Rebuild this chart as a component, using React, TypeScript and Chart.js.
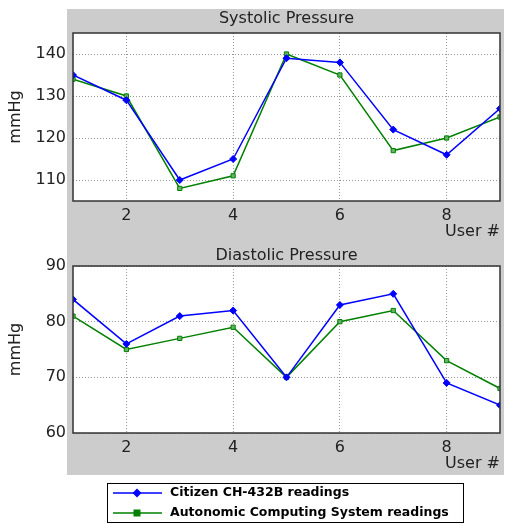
import React, { useEffect, useRef } from "react";
import { Chart, registerables } from "chart.js";

Chart.register(...registerables);

const users = [1, 2, 3, 4, 5, 6, 7, 8, 9];
const systolicCitizen = [135, 129, 110, 115, 139, 138, 122, 116, 127];
const systolicACS = [134, 130, 108, 111, 140, 135, 117, 120, 125];
const diastolicCitizen = [84, 76, 81, 82, 70, 83, 85, 69, 65];
const diastolicACS = [81, 75, 77, 79, 70, 80, 82, 73, 68];
const xTickValues = [2, 4, 6, 8];
const systolicTicks = [110, 120, 130, 140];
const diastolicTicks = [60, 70, 80, 90];
const seriesLabels = ["Citizen CH-432B readings", "Autonomic Computing System readings"];
const seriesColors = ["#0000ff", "#008000"];
const seriesMarkers = ["rectRot", "rect"];

const FONT = "'DejaVu Sans', 'Liberation Sans', sans-serif";

function drawMarker(ctx: CanvasRenderingContext2D, kind: string, x: number, y: number, color: string) {
  ctx.save();
  ctx.fillStyle = color;
  ctx.strokeStyle = color;
  ctx.beginPath();
  if (kind === "rectRot") {
    const r = 4.5;
    ctx.moveTo(x, y - r);
    ctx.lineTo(x + r, y);
    ctx.lineTo(x, y + r);
    ctx.lineTo(x - r, y);
    ctx.closePath();
  } else {
    const r = 3.5;
    ctx.rect(x - r, y - r, 2 * r, 2 * r);
  }
  ctx.fill();
  ctx.restore();
}

const panelPlugin = {
  id: "panel",
  beforeDraw(chart: any) {
    const { ctx, chartArea: a } = chart;
    ctx.save();
    ctx.fillStyle = "#ffffff";
    ctx.fillRect(a.left, a.top, a.right - a.left, a.bottom - a.top);
    ctx.restore();
  },
  afterDraw(chart: any, _args: any, opts: any) {
    const { ctx, chartArea: a } = chart;
    ctx.save();
    ctx.strokeStyle = "#333333";
    ctx.lineWidth = 1.5;
    ctx.strokeRect(a.left, a.top, a.right - a.left, a.bottom - a.top);
    if (opts.title) {
      ctx.fillStyle = "#222222";
      ctx.font = `16px ${FONT}`;
      ctx.textAlign = "center";
      ctx.textBaseline = "middle";
      ctx.fillText(opts.title, (a.left + a.right) / 2, opts.titleY);
    }
    if (opts.legend) {
      const L = opts.legend;
      ctx.fillStyle = "#ffffff";
      ctx.fillRect(L.x, L.y, L.w, L.h);
      ctx.strokeStyle = "#000000";
      ctx.lineWidth = 1;
      ctx.strokeRect(L.x + 0.5, L.y + 0.5, L.w, L.h);
      chart.data.datasets.forEach((ds: any, i: number) => {
        const cy = L.y + 10 + i * 20;
        ctx.strokeStyle = ds.borderColor;
        ctx.lineWidth = 1.5;
        ctx.beginPath();
        ctx.moveTo(L.x + 6, cy);
        ctx.lineTo(L.x + 55, cy);
        ctx.stroke();
        drawMarker(ctx, ds.pointStyle, L.x + 30, cy, ds.borderColor);
        ctx.fillStyle = "#000000";
        ctx.font = `bold 12.5px ${FONT}`;
        ctx.textAlign = "left";
        ctx.textBaseline = "middle";
        ctx.fillText(ds.label, L.x + 63, cy);
      });
    }
    ctx.restore();
  },
};

function makeConfig(
  a: number[],
  b: number[],
  yMin: number,
  yMax: number,
  yTicks: number[],
  title: string,
  titleY: number,
  padding: any,
  legend: any
): any {
  const series = [a, b];
  return {
    type: "line",
    data: {
      datasets: series.map((arr, i) => ({
        label: seriesLabels[i],
        data: users.map((u, j) => ({ x: u, y: arr[j] })),
        borderColor: seriesColors[i],
        backgroundColor: seriesColors[i],
        borderWidth: 1.5,
        pointStyle: seriesMarkers[i],
        pointRadius: i === 0 ? 3.5 : 3,
        pointBorderWidth: 1,
        pointBackgroundColor: i === 0 ? seriesColors[i] : "#66b366",
        pointBorderColor: seriesColors[i],
        tension: 0,
      })),
    },
    options: {
      animation: false,
      responsive: false,
      layout: { padding },
      plugins: {
        legend: { display: false },
        tooltip: { enabled: false },
        panel: { title, titleY, legend },
      },
      scales: {
        x: {
          type: "linear",
          min: 1,
          max: 9,
          afterBuildTicks: (s: any) => {
            s.ticks = xTickValues.map((v) => ({ value: v }));
          },
          afterFit: (s: any) => {
            s.height = 39;
          },
          grid: { color: "#999999", lineWidth: 1, drawTicks: false, tickBorderDash: [1, 2] },
          border: { display: false, dash: [1, 2] },
          ticks: { font: { family: FONT, size: 16 }, color: "#222222", padding: 5, maxRotation: 0 },
          title: {
            display: true,
            text: "User #",
            align: "end",
            color: "#222222",
            font: { family: FONT, size: 16, lineHeight: 1 },
            padding: { top: 0, bottom: 0 },
          },
        },
        y: {
          min: yMin,
          max: yMax,
          afterBuildTicks: (s: any) => {
            s.ticks = yTicks.map((v) => ({ value: v }));
          },
          afterFit: (s: any) => {
            s.width = 73;
          },
          grid: { color: "#999999", lineWidth: 1, drawTicks: false },
          border: { display: false, dash: [1, 2] },
          ticks: { font: { family: FONT, size: 16 }, color: "#222222", padding: 7 },
          title: {
            display: true,
            text: "mmHg",
            color: "#222222",
            font: { family: FONT, size: 16, lineHeight: 1 },
            padding: { top: 8, bottom: 0 },
          },
        },
      },
    },
    plugins: [panelPlugin],
  };
}

export default function App() {
  const ref1 = useRef<HTMLCanvasElement>(null);
  const ref2 = useRef<HTMLCanvasElement>(null);

  useEffect(() => {
    const c1 = new Chart(
      ref1.current as HTMLCanvasElement,
      makeConfig(systolicCitizen, systolicACS, 105, 145, systolicTicks, "Systolic Pressure", 19, { top: 33, right: 7, left: 0, bottom: 0 }, null)
    );
    const c2 = new Chart(
      ref2.current as HTMLCanvasElement,
      makeConfig(diastolicCitizen, diastolicACS, 60, 90, diastolicTicks, "Diastolic Pressure", 16, { top: 26, right: 7, left: 0, bottom: 52 }, { x: 107, y: 243, w: 356, h: 39 })
    );
    return () => {
      c1.destroy();
      c2.destroy();
    };
  }, []);

  return (
    <div style={{ position: "fixed", left: 0, top: 0, width: 507, height: 524, background: "#ffffff", overflow: "hidden" }}>
      <div style={{ position: "absolute", left: 67, top: 9, width: 437, height: 466, background: "#cccccc" }} />
      <canvas ref={ref1} width={507} height={240} style={{ position: "absolute", left: 0, top: 0, width: 507, height: 240 }} />
      <canvas ref={ref2} width={507} height={284} style={{ position: "absolute", left: 0, top: 240, width: 507, height: 284 }} />
    </div>
  );
}
